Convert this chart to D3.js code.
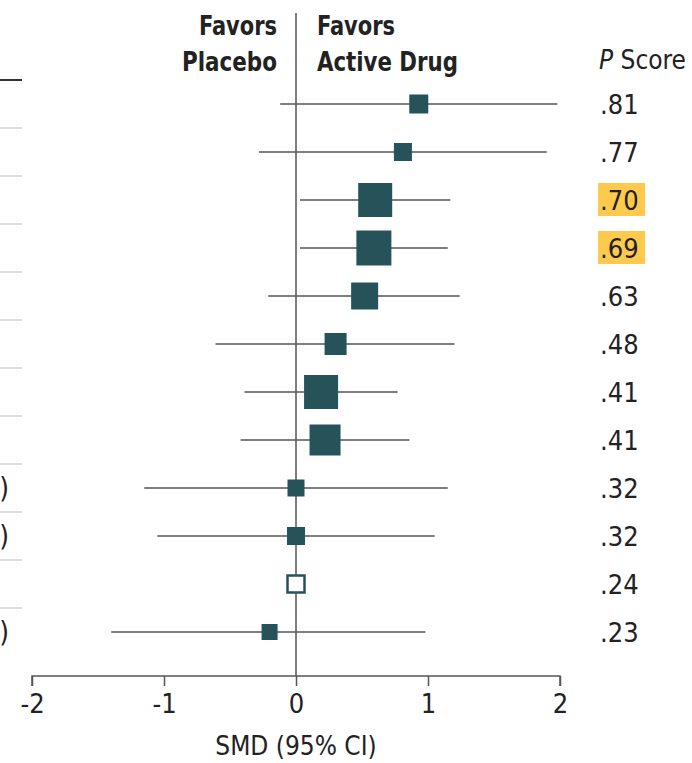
<!DOCTYPE html>
<html>
<head>
<meta charset="utf-8">
<script src="https://cdn.jsdelivr.net/npm/d3@7"></script>
<style>
  html, body { margin: 0; padding: 0; background: #fff; }
  svg { display: block; }
  .lbl { font-family: "Liberation Sans Narrow", "DejaVu Sans Condensed", "Roboto Condensed", sans-serif; }
</style>
</head>
<body>
<div id="chart"></div>
<script>
// forest plot values, top row first
const pScores = [".81", ".77", ".70", ".69", ".63", ".48", ".41", ".41", ".32", ".32", ".24", ".23"];
const smd = [0.93, 0.81, 0.60, 0.59, 0.52, 0.30, 0.19, 0.22, 0.00, 0.00, 0.00, -0.20];
const ciLow = [-0.12, -0.28, 0.03, 0.03, -0.21, -0.61, -0.39, -0.42, -1.15, -1.05, null, -1.40];
const ciHigh = [1.98, 1.90, 1.17, 1.15, 1.24, 1.20, 0.77, 0.86, 1.15, 1.05, null, 0.98];
const weight = [19, 18, 34, 35, 27, 22, 34, 31, 17, 18, 17, 16];
const isReference = [false, false, false, false, false, false, false, false, false, false, true, false];
const highlighted = [false, false, true, true, false, false, false, false, false, false, false, false];
const leftCut = ["", "", "", "", "", "", "", "", ")", ")", "", ")"];
const xTicks = [-2, -1, 0, 1, 2];

const width = 692;
const height = 763;
const teal = "#26525a";
const lineGray = "#555";

const svg = d3.select("#chart").append("svg")
  .attr("width", width)
  .attr("height", height);

const x = d3.scaleLinear().domain([-2, 2]).range([32, 560]);
const y = d3.scalePoint().domain(d3.range(pScores.length)).range([104, 632]);
const size = d3.scaleLinear().domain([0, 35]).range([0, 35]);
const axisY = 676;

// left edge: cut-off table rules
svg.append("line")
  .attr("x1", 0).attr("x2", 22)
  .attr("y1", y(0) - 24).attr("y2", y(0) - 24)
  .attr("stroke", "#333").attr("stroke-width", 2);

svg.append("g").selectAll("line")
  .data(d3.range(pScores.length - 1))
  .enter().append("line")
  .attr("x1", 0).attr("x2", 22)
  .attr("y1", d => y(d) + 24).attr("y2", d => y(d) + 24)
  .attr("stroke", "#d6d3ca").attr("stroke-width", 1.5);

svg.append("g").selectAll("text")
  .data(leftCut)
  .enter().append("text")
  .attr("class", "lbl")
  .attr("x", 9)
  .attr("y", (d, i) => y(i) + 10)
  .attr("text-anchor", "end")
  .attr("font-size", 28)
  .attr("fill", "#222")
  .text(d => d);

// zero line
svg.append("line")
  .attr("x1", x(0)).attr("x2", x(0))
  .attr("y1", 13).attr("y2", axisY)
  .attr("stroke", lineGray).attr("stroke-width", 1.5);

// header (condensed to the widths in the original)
const header = svg.append("g").attr("class", "lbl")
  .attr("font-size", 27).attr("font-weight", 600).attr("fill", "#222");
header.append("text").attr("x", 277).attr("y", 35).attr("text-anchor", "end")
  .attr("textLength", 78).attr("lengthAdjust", "spacingAndGlyphs").text("Favors");
header.append("text").attr("x", 277).attr("y", 71).attr("text-anchor", "end")
  .attr("textLength", 95).attr("lengthAdjust", "spacingAndGlyphs").text("Placebo");
header.append("text").attr("x", 317).attr("y", 35)
  .attr("textLength", 78).attr("lengthAdjust", "spacingAndGlyphs").text("Favors");
header.append("text").attr("x", 317).attr("y", 71)
  .attr("textLength", 141).attr("lengthAdjust", "spacingAndGlyphs").text("Active Drug");

const pHead = svg.append("text").attr("class", "lbl")
  .attr("x", 599).attr("y", 69)
  .attr("font-size", 26).attr("fill", "#222");
pHead.append("tspan").attr("font-style", "italic").text("P");
pHead.append("tspan").text(" Score");

// confidence intervals
svg.append("g").selectAll("line")
  .data(d3.range(pScores.length).filter(i => ciLow[i] !== null))
  .enter().append("line")
  .attr("x1", i => x(ciLow[i])).attr("x2", i => x(ciHigh[i]))
  .attr("y1", i => y(i)).attr("y2", i => y(i))
  .attr("stroke", lineGray).attr("stroke-width", 1.5);

// squares
svg.append("g").selectAll("rect")
  .data(d3.range(pScores.length))
  .enter().append("rect")
  .attr("x", i => x(smd[i]) - size(weight[i]) / 2)
  .attr("y", i => y(i) - size(weight[i]) / 2)
  .attr("width", i => size(weight[i]))
  .attr("height", i => size(weight[i]))
  .attr("fill", i => isReference[i] ? "#fff" : teal)
  .attr("stroke", teal)
  .attr("stroke-width", i => isReference[i] ? 2.5 : 0);

// P scores with highlight
svg.append("g").selectAll("rect")
  .data(d3.range(pScores.length).filter(i => highlighted[i]))
  .enter().append("rect")
  .attr("x", 598).attr("y", i => y(i) - 17)
  .attr("width", 47).attr("height", 33)
  .attr("fill", "#fdca4e");

svg.append("g").selectAll("text")
  .data(pScores)
  .enter().append("text")
  .attr("class", "lbl")
  .attr("x", 600)
  .attr("y", (d, i) => y(i) + 10)
  .attr("font-size", 27)
  .attr("fill", "#222")
  .text(d => d);

// x axis
const axis = svg.append("g")
  .attr("transform", "translate(0," + axisY + ")")
  .call(d3.axisBottom(x).tickValues(xTicks).tickSize(10).tickPadding(8).tickFormat(d3.format("d")));
axis.select(".domain").attr("stroke", lineGray).attr("stroke-width", 1.5)
  .attr("d", "M" + x(-2) + ",10V0H" + x(2) + "V10");
axis.selectAll(".tick line").attr("stroke", lineGray).attr("stroke-width", 1.5);
axis.selectAll(".tick text")
  .attr("class", "lbl")
  .attr("font-size", 27)
  .attr("fill", "#222")
  .text(d => d < 0 ? "-" + Math.abs(d) : d);

svg.append("text").attr("class", "lbl")
  .attr("x", x(0)).attr("y", 755)
  .attr("text-anchor", "middle")
  .attr("font-size", 26)
  .attr("fill", "#222")
  .text("SMD (95% CI)");
</script>
</body>
</html>
